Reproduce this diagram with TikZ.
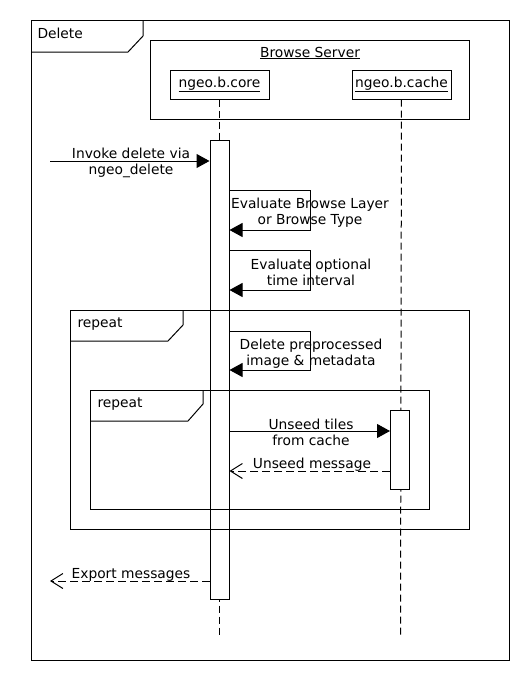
\documentclass[tikz,border=0pt]{standalone}
\usepackage{fontspec}
\setmainfont{DejaVu Sans}
\usetikzlibrary{arrows.meta,positioning}

\begin{document}
\begin{tikzpicture}[
    x=1pt, y=-1pt,
    font=\fontsize{13.8}{16.5}\selectfont,
    line width=1pt,
    actor/.style={
		rectangle,
		draw=black,
		minimum width=99pt,
		minimum height=29pt,
		inner sep=0pt
	},
	bar/.style={
		rectangle,
		draw=black,
		fill=white,
		minimum width=19pt,
		inner sep=0pt
	},
	lifeline/.style={
		dash pattern=on 7pt off 4pt
	},
	call/.style={
		-{Triangle[length=13pt,width=14pt]}
	},
	reply/.style={
		dash pattern=on 8pt off 4pt,
		-{Straight Barb[length=12pt,width=15pt]}
	},
	msg/.style={
		align=center,
		inner sep=0pt
	},
	tag/.style={
		anchor=base west,
		inner sep=0pt
	}
  ]
  \useasboundingbox (0,0) rectangle (530,680);

  % the frame round everything
  \draw (31,20) rectangle (509,660);
  \draw (31,52) -- (128,52) -- (143,36) -- (143,20);
  \node [tag] (deltag) at (37,38) {Delete};

  % server and its two parts
  \draw (150,40) rectangle (469,119);
  \node [anchor=base, inner sep=0pt] (server) at (310,57) {\underline{Browse Server}};
  \node [actor] (core) at (219.5,84.5) {\underline{ngeo.b.core}};
  \node [actor, right=82pt of core] (cache) {\underline{ngeo.b.cache}};

  \coordinate (coreend) at (219.5,638);
  \coordinate (cacheend) at (400.5,638);
  \draw [lifeline] (core) -- (coreend);
  \draw [lifeline] (cache) -- (cacheend);

  \node [bar, minimum height=459pt] (corebar) at (219.5,369.5) {};
  \node [bar, minimum height=79pt] (cachebar) at (400,449.5) {};

  % repeat frames
  \draw (70,310) rectangle (469,529);
  \draw (70,341) -- (168,341) -- (183,325) -- (183,310);
  \node [tag] (rep1) at (77,327) {repeat};
  \draw (90,390) rectangle (429,509);
  \draw (90,421) -- (188,421) -- (203,404) -- (203,390);
  \node [tag] (rep2) at (97,407) {repeat};

  % messages
  \coordinate (client) at (50,161);
  \draw [call] (client) -- (corebar.west |- client);
  \node [msg] (msg1) at (131,163) {Invoke delete via\\ngeo\_delete};

  \draw [call] (corebar.east |- 0,190) -- ++(81,0) |- (corebar.east |- 0,230);
  \node [msg] (msg2) at (310,212.5) {Evaluate Browse Layer\\or Browse Type};

  \draw [call] (corebar.east |- 0,250) -- ++(81,0) |- (corebar.east |- 0,290);
  \node [msg] (msg3) at (311,272.5) {Evaluate optional\\time interval};

  \draw [call] (corebar.east |- 0,331) -- ++(81,0) |- (corebar.east |- 0,370);
  \node [msg] (msg4) at (311,353.5) {Delete preprocessed\\image \& metadata};

  \draw [call] (corebar.east |- 0,431) -- (cachebar.west |- 0,431);
  \node [msg] (msg5) at (311,432.5) {Unseed tiles\\from cache};

  \draw [reply] (cachebar.west |- 0,471) -- (corebar.east |- 0,471);
  \node [msg] (msg6) at (312,465) {Unseed message};

  \coordinate (exit) at (50,581);
  \draw [reply] (corebar.west |- exit) -- (exit);
  \node [msg] (msg7) at (131,574.5) {Export messages};

\end{tikzpicture}
\end{document}
